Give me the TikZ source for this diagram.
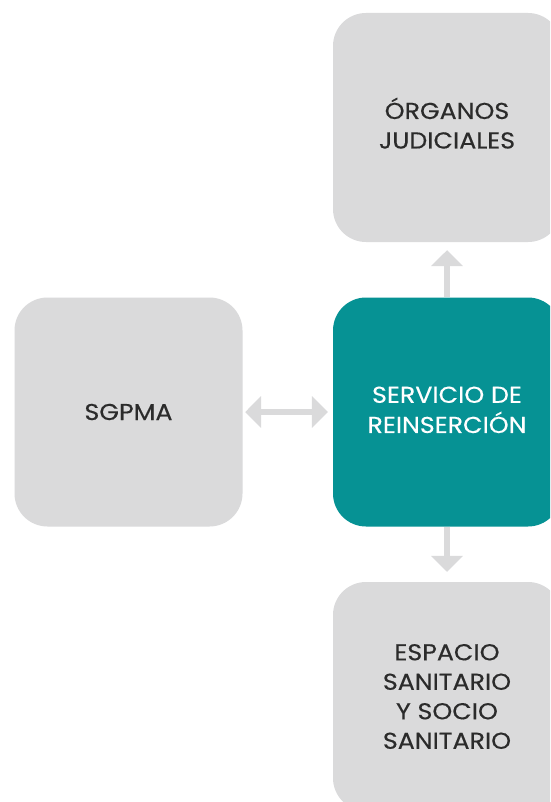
\documentclass[tikz,border=0pt]{standalone}
\usepackage{fontspec}
\setmainfont{Poppins}[FakeBold=0.4,FakeStretch=1.1]
\usetikzlibrary{arrows.meta}
\definecolor{boxgrey}{HTML}{DADADB}
\definecolor{teal}{HTML}{069294}
\definecolor{txt}{HTML}{2B2B2B}
\tikzset{
  card/.style={rounded corners=33pt, minimum width=228pt, minimum height=229pt, inner sep=0pt,
    align=center, font=\fontsize{23}{29.5}\selectfont, text=txt, fill=boxgrey},
  maincard/.style={card, fill=teal, text=white},
  link/.style={draw=boxgrey, line width=6pt, -{Triangle[width=31pt,length=16pt]}},
  dlink/.style={draw=boxgrey, line width=6pt, {Triangle[width=31pt,length=16pt]}-{Triangle[width=31pt,length=16pt]}}
}
\begin{document}
\begin{tikzpicture}[x=1pt,y=-1pt]
\useasboundingbox (0,0) rectangle (550,802);
\clip (0,0) rectangle (550,802);
\fill[white] (0,0) rectangle (550,802);
\node[card] (top) at (447,127.5) {\raisebox{3pt}{\begin{tabular}{@{}c@{}}ÓRGANOS\\JUDICIALES\end{tabular}}};
\node[card] (left) at (128.5,412) {SGPMA};
\node[maincard] (center) at (447,412) {\raisebox{2pt}{\begin{tabular}{@{}c@{}}SERVICIO DE\\REINSERCIÓN\end{tabular}}};
\node[card] (bottom) at (447,696.5) {ESPACIO\\SANITARIO\\Y SOCIO\\SANITARIO};
\draw[dlink, shorten <=2.5pt, shorten >=5pt] (left.east) -- (center.west);
\draw[link, shorten >=8pt] (center.north) -- (top.south);
\draw[link, shorten >=10pt] (center.south) -- (bottom.north);
\end{tikzpicture}
\end{document}
